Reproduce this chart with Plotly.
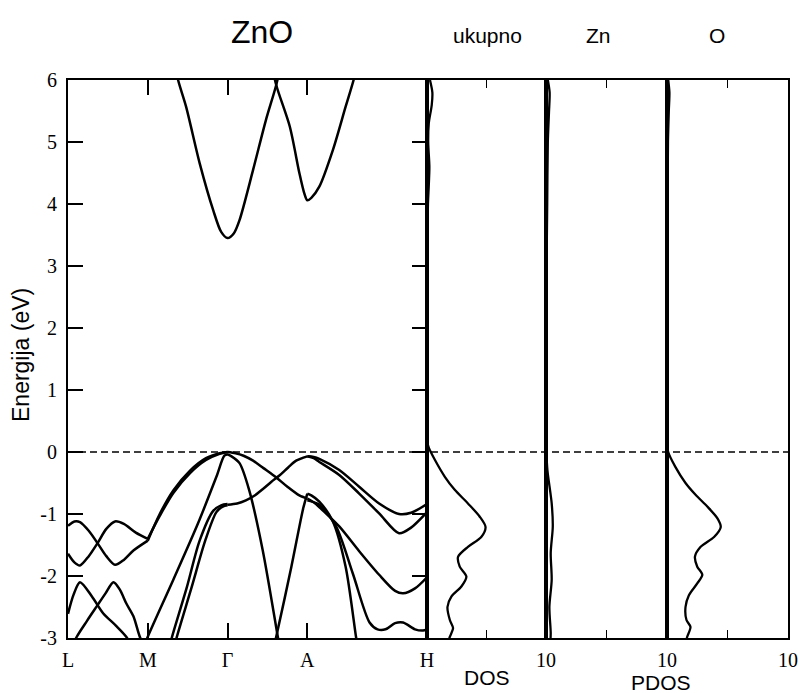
import plotly.graph_objects as go

# ---------------- data ----------------
# k-path positions (L, M, Gamma, A, H) and labels
k_ticks = [0.0, 1.0, 2.0, 3.0, 4.5]
k_labels = ["L", "M", "\u0393", "A", "H"]
e_ticks = [-3, -2, -1, 0, 1, 2, 3, 4, 5, 6]
e_labels = ["-3", "-2", "-1", "0", "1", "2", "3", "4", "5", "6"]

# conduction bands (k, E)
cb1_k = [1.30, 1.38, 1.48, 1.65, 1.82, 1.92, 2.0, 2.08, 2.15, 2.32, 2.48, 2.61, 2.70]
cb1_e = [6.5, 6.0, 5.57, 4.66, 3.90, 3.55, 3.45, 3.53, 3.74, 4.55, 5.35, 5.92, 6.45]
cb2_k = [2.52, 2.61, 2.78, 2.90, 2.96, 3.0, 3.05, 3.15, 3.32, 3.48, 3.58, 3.65]
cb2_e = [6.45, 5.92, 5.25, 4.50, 4.18, 4.06, 4.10, 4.28, 4.87, 5.57, 6.0, 6.4]

# valence bands, L-M section
vA_k = [0.0, 0.08, 0.15, 0.26, 0.37, 0.48, 0.59, 0.70, 0.82, 1.0]
vA_e = [-1.19, -1.12, -1.13, -1.27, -1.47, -1.68, -1.82, -1.74, -1.59, -1.43]
vB_k = [0.0, 0.08, 0.15, 0.26, 0.37, 0.48, 0.59, 0.70, 0.85, 1.0]
vB_e = [-1.64, -1.78, -1.83, -1.68, -1.47, -1.24, -1.12, -1.16, -1.30, -1.40]
vC_k = [0.0, 0.07, 0.15, 0.30, 0.44, 0.60, 0.73, 0.85]
vC_e = [-2.61, -2.30, -2.10, -2.33, -2.60, -2.80, -2.98, -3.25]
vD_k = [0.0, 0.11, 0.24, 0.36, 0.47, 0.57, 0.65, 0.73, 0.82, 0.90, 1.0]
vD_e = [-3.30, -2.98, -2.72, -2.49, -2.28, -2.10, -2.22, -2.44, -2.65, -2.98, -3.25]

# M-Gamma section
vMG1_k = [1.0, 1.15, 1.32, 1.53, 1.73, 1.90, 2.0]
vMG1_e = [-1.43, -1.00, -0.62, -0.30, -0.10, -0.02, 0.0]
vMG2_k = [1.0, 1.15, 1.32, 1.53, 1.73, 1.90, 2.0]
vMG2_e = [-1.40, -1.03, -0.66, -0.34, -0.13, -0.03, 0.0]
vS1_k = [0.95, 1.0, 1.32, 1.63, 1.86, 1.96, 2.0, 2.05, 2.15, 2.27, 2.44, 2.63, 2.70]
vS1_e = [-3.15, -2.98, -2.06, -1.15, -0.40, -0.06, -0.04, -0.07, -0.18, -0.61, -1.58, -2.98, -3.50]
vE1_k = [1.25, 1.30, 1.49, 1.65, 1.82, 1.92, 2.0]
vE1_e = [-3.25, -3.0, -2.18, -1.43, -0.95, -0.86, -0.84]
vE2_k = [1.31, 1.36, 1.55, 1.72, 1.86, 1.94, 2.0]
vE2_e = [-3.25, -3.0, -2.18, -1.43, -0.97, -0.88, -0.86]

# Gamma-A section
vG1_k = [2.0, 2.1, 2.2, 2.32, 2.45, 2.61, 2.75, 2.90, 3.0]
vG1_e = [0.0, -0.02, -0.06, -0.14, -0.26, -0.41, -0.56, -0.70, -0.75]
vG2_k = [2.0, 2.12, 2.23, 2.33, 2.44, 2.55, 2.65, 2.76, 2.86, 3.0]
vG2_e = [-0.85, -0.83, -0.78, -0.71, -0.60, -0.48, -0.38, -0.25, -0.14, -0.07]
vS2_k = [2.55, 2.61, 2.80, 2.95, 3.0]
vS2_e = [-3.30, -2.98, -1.85, -0.90, -0.67]

# A-H section
vH1_k = [3.0, 3.08, 3.15, 3.40, 3.65, 3.90, 4.15, 4.30, 4.50]
vH1_e = [-0.07, -0.08, -0.11, -0.29, -0.56, -0.83, -1.00, -0.98, -0.84]
vH2_k = [3.0, 3.08, 3.15, 3.40, 3.65, 3.90, 4.15, 4.30, 4.50]
vH2_e = [-0.07, -0.10, -0.16, -0.37, -0.67, -0.99, -1.31, -1.22, -0.97]
vH3_k = [3.0, 3.10, 3.20, 3.40, 3.65, 3.90, 4.10, 4.20, 4.35, 4.50]
vH3_e = [-0.75, -0.83, -0.95, -1.20, -1.60, -1.98, -2.24, -2.28, -2.20, -2.02]
vH4_k = [3.0, 3.15, 3.36, 3.57, 3.78, 3.88, 3.98, 4.10, 4.20, 4.35, 4.45, 4.50]
vH4_e = [-0.78, -0.85, -1.20, -1.96, -2.75, -2.86, -2.86, -2.76, -2.75, -2.86, -2.88, -2.86]
vH5_k = [3.0, 3.05, 3.15, 3.32, 3.48, 3.61, 3.65]
vH5_e = [-0.67, -0.70, -0.80, -1.12, -1.85, -2.98, -3.30]

# DOS (energy, value)
dos_e = [6.0, 5.8, 5.6, 5.3, 5.0, 4.6, 4.3, 4.0, 3.5, 3.0, 2.0, 1.0, 0.7, 0.68, 0.2, 0.18,
         0.07, -0.13, -0.40, -0.61, -0.83, -1.04, -1.21, -1.37, -1.53, -1.69, -1.85,
         -2.01, -2.17, -2.33, -2.50, -2.71, -2.84, -2.98, -3.1]
dos_tot = [0.25, 0.45, 0.40, 0.15, 0.10, 0.20, 0.15, 0.08, 0.05, 0.03, 0.03, 0.02, 0.02, 0.0, 0.0, 0.0,
           0.15, 0.67, 1.50, 2.33, 3.44, 4.42, 4.92, 4.56, 3.44, 2.61, 2.75,
           3.31, 2.89, 2.06, 1.72, 1.92, 2.19, 1.92, 1.70]
zn_e = [6.0, 5.8, 5.5, 5.0, 4.0, 3.0, 1.0, 0.7, 0.68, 0.2, 0.0, -0.3, -0.83, -1.2, -1.63, -2.06, -2.5, -2.92, -3.1]
zn_dos = [0.15, 0.30, 0.25, 0.15, 0.10, 0.05, 0.02, 0.02, 0.0, 0.0, 0.03, 0.12, 0.47, 0.56, 0.39, 0.47, 0.28, 0.39, 0.35]
o_e = [6.0, 5.8, 5.5, 5.0, 4.0, 3.0, 1.0, 0.7, 0.68, 0.2, 0.19, 0.0, -0.24, -0.50, -0.69, -0.88, -1.07,
       -1.21, -1.37, -1.53, -1.69, -1.85, -1.98, -2.12, -2.31, -2.50, -2.71, -2.82, -2.98, -3.1]
o_dos = [0.10, 0.20, 0.15, 0.08, 0.05, 0.03, 0.02, 0.02, 0.0, 0.0, 0.0, 0.10, 0.69, 1.53, 2.36, 3.33, 4.17,
         4.44, 3.89, 2.78, 2.31, 2.50, 2.92, 2.50, 1.81, 1.53, 1.61, 1.94, 1.67, 1.50]

# ---------------- figure ----------------
fig = go.Figure()
band_style = dict(color="black", width=2.5)
bands = [(cb1_k, cb1_e), (cb2_k, cb2_e), (vA_k, vA_e), (vB_k, vB_e), (vC_k, vC_e), (vD_k, vD_e),
         (vMG1_k, vMG1_e), (vMG2_k, vMG2_e), (vS1_k, vS1_e), (vE1_k, vE1_e), (vE2_k, vE2_e),
         (vG1_k, vG1_e), (vG2_k, vG2_e), (vS2_k, vS2_e), (vH1_k, vH1_e), (vH2_k, vH2_e),
         (vH3_k, vH3_e), (vH4_k, vH4_e), (vH5_k, vH5_e)]
for kk, ee in bands:
    fig.add_trace(go.Scatter(x=kk, y=ee, mode="lines", line=dict(shape="spline", smoothing=0.8, **band_style),
                             xaxis="x", yaxis="y", showlegend=False, hoverinfo="skip"))

for xa, dv, ev in [("x2", dos_tot, dos_e), ("x3", zn_dos, zn_e), ("x4", o_dos, o_e)]:
    fig.add_trace(go.Scatter(x=dv, y=ev, mode="lines", line=dict(shape="spline", smoothing=0.8, color="black", width=2.3),
                             xaxis=xa, yaxis="y", showlegend=False, hoverinfo="skip"))

# Fermi level
fig.add_shape(type="line", xref="paper", yref="y", x0=0, x1=1, y0=0, y1=0,
              line=dict(color="black", width=1.6, dash="7px,4px"))

W0 = 68; W1 = 788
def frac(px):
    return (px - W0) / (W1 - W0)

tick_font = dict(family="Liberation Serif, Times New Roman, serif", size=20, color="black")
common_x = dict(showline=True, linecolor="black", linewidth=2, mirror="ticks", ticks="inside",
                tickcolor="black", tickfont=tick_font, showgrid=False, zeroline=False, anchor="y",
                automargin=False)

fig.update_layout(
    template="none",
    width=801, height=693, autosize=False,
    margin=dict(l=W0, r=801 - W1, t=80, b=55, pad=0),
    paper_bgcolor="white", plot_bgcolor="white",
    xaxis=dict(domain=[0, frac(427)], range=[0, 4.5], tickvals=k_ticks, ticktext=k_labels,
               ticklen=15, tickwidth=1.5, ticklabelstandoff=3, **common_x),
    xaxis2=dict(domain=[frac(427), frac(546)], range=[0, 10], tickvals=[5, 10], ticktext=["", "10"],
                ticklen=8, tickwidth=1.2, ticklabelstandoff=3, **common_x),
    xaxis3=dict(domain=[frac(546), frac(667)], range=[0, 10], tickvals=[5, 10], ticktext=["", "10"],
                ticklen=8, tickwidth=1.2, ticklabelstandoff=3, **common_x),
    xaxis4=dict(domain=[frac(667), 1], range=[0, 10], tickvals=[5, 10], ticktext=["", "10"],
                ticklen=8, tickwidth=1.2, ticklabelstandoff=3, **common_x),
    yaxis=dict(domain=[0, 1], range=[-3, 6], tickvals=e_ticks, ticktext=e_labels, ticks="inside",
               ticklen=15, tickwidth=1.5, tickcolor="black", tickfont=tick_font, showline=True,
               linecolor="black", linewidth=2, mirror="all", showgrid=False, zeroline=False,
               anchor="x", ticklabelstandoff=5, automargin=False),
)

sans = "Liberation Sans, Arial, sans-serif"
ann = [
    ("ZnO", 262, 32, 32),
    ("ukupno", 487, 36, 21),
    ("Zn", 598, 36, 21),
    ("O", 717, 36, 21),
    ("DOS", 487, 677, 21),
    ("PDOS", 661, 682, 21),
]
for txt, px, py, sz in ann:
    fig.add_annotation(text=txt, xref="paper", yref="paper", x=frac(px), y=(638 - py) / 558,
                       showarrow=False, xanchor="center", yanchor="middle",
                       font=dict(family=sans, size=sz, color="black"))
fig.add_annotation(text="Energija (eV)", xref="paper", yref="paper", x=frac(21), y=(638 - 355) / 558,
                   showarrow=False, textangle=-90, xanchor="center", yanchor="middle",
                   font=dict(family=sans, size=23, color="black"))

fig.write_html("out.html", config={"displayModeBar": False, "responsive": False},
               post_script="document.body.style.margin='0';document.body.style.padding='0';document.body.style.overflow='hidden';")
